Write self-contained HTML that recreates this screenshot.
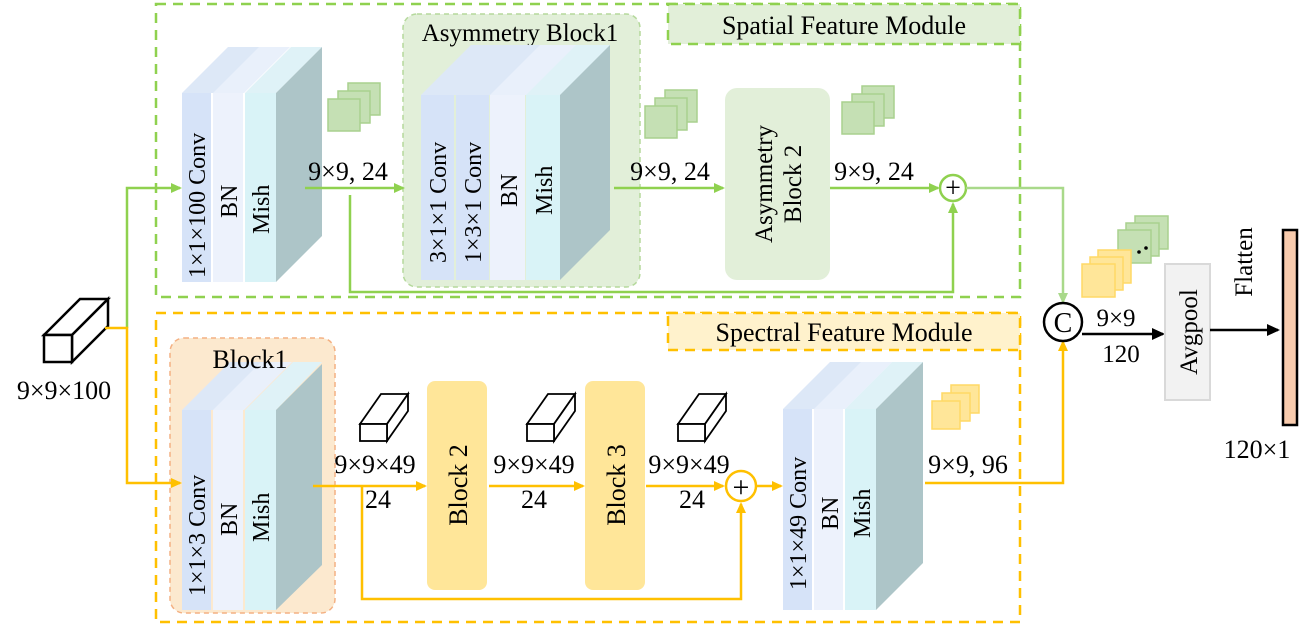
<!DOCTYPE html>
<html><head><meta charset="utf-8"><style>
html,body{margin:0;padding:0;background:#fff}
svg{display:block}
svg text{font-family:"Liberation Serif","DejaVu Serif","Times New Roman",serif !important}
</style></head><body>
<svg width="1305" height="628" viewBox="0 0 1305 628" xmlns="http://www.w3.org/2000/svg" font-family="Liberation Serif, DejaVu Serif, serif">
<defs>
<marker id="ag" markerWidth="12" markerHeight="12" refX="9" refY="5" orient="auto" markerUnits="userSpaceOnUse"><path d="M0,0 L11,5 L0,10z" fill="#8fd14f"/></marker>
<marker id="agl" markerWidth="12" markerHeight="12" refX="9" refY="5" orient="auto" markerUnits="userSpaceOnUse"><path d="M0,0 L11,5 L0,10z" fill="#a9d98a"/></marker>
<marker id="ao" markerWidth="12" markerHeight="12" refX="9" refY="5" orient="auto" markerUnits="userSpaceOnUse"><path d="M0,0 L11,5 L0,10z" fill="#ffc000"/></marker>
<marker id="ak" markerWidth="14" markerHeight="14" refX="11" refY="6" orient="auto" markerUnits="userSpaceOnUse"><path d="M0,0 L13,6 L0,12z" fill="#000"/></marker>
</defs>

<rect x="156" y="4" width="864" height="293" fill="none" stroke="#8fd14f" stroke-width="2.5" stroke-dasharray="10,7"/>
<rect x="668" y="4" width="352" height="40" fill="#e2efd9" stroke="#8fd14f" stroke-width="2.5" stroke-dasharray="10,7"/>
<text x="844" y="34" font-size="26" text-anchor="middle">Spatial Feature Module</text>
<rect x="156" y="313" width="864" height="309" fill="none" stroke="#ffc000" stroke-width="2.5" stroke-dasharray="10,7"/>
<rect x="668" y="313" width="352" height="37" fill="#fff2cc" stroke="#ffc000" stroke-width="2.5" stroke-dasharray="10,7"/>
<text x="844" y="341" font-size="26" text-anchor="middle">Spectral Feature Module</text>

<rect x="403" y="14" width="237" height="273" rx="14" fill="#e2efd9" stroke="#b5d99c" stroke-width="1.5" stroke-dasharray="5,4"/>
<text x="520" y="41" font-size="25" text-anchor="middle">Asymmetry Block1</text>
<rect x="170" y="338" width="165" height="275" rx="14" fill="#fce9cf" stroke="#f4b183" stroke-width="1.5" stroke-dasharray="5,4"/>

<g>
<polygon points="182,93 228,47 276,47 230,93" fill="#dde8f7"/>
<polygon points="213,93 259,47 290,47 244,93" fill="#e9f0fb"/>
<polygon points="245,93 291,47 322,47 276,93" fill="#dff2f7"/>
<polygon points="276,93 322,47 322,236 276,282" fill="#adc5c8"/>
<rect x="182" y="93" width="29" height="189" fill="#d6e3f8"/>
<rect x="213" y="93" width="30" height="189" fill="#edf2fc"/>
<rect x="245" y="93" width="31" height="189" fill="#d9f3f7"/>
<text transform="translate(205,278) rotate(-90)" font-size="24">1×1×100 Conv</text>
<text transform="translate(237,218) rotate(-90)" font-size="24">BN</text>
<text transform="translate(269,234) rotate(-90)" font-size="24">Mish</text>
</g>

<g>
<polygon points="421,95 471,45 610,45 560,95" fill="#dde8f7"/>
<polygon points="490,95 540,45 610,45 560,95" fill="#e9f0fb"/>
<polygon points="526,95 576,45 610,45 560,95" fill="#dff2f7"/>
<polygon points="560,95 610,45 610,230 560,280" fill="#adc5c8"/>
<rect x="421" y="95" width="33" height="185" fill="#d6e3f8"/>
<rect x="456" y="95" width="33" height="185" fill="#d6e3f8"/>
<rect x="490" y="95" width="35" height="185" fill="#edf2fc"/>
<rect x="526" y="95" width="34" height="185" fill="#d9f3f7"/>
<text transform="translate(446,263) rotate(-90)" font-size="24">3×1×1 Conv</text>
<text transform="translate(481,263) rotate(-90)" font-size="24">1×3×1 Conv</text>
<text transform="translate(517,207) rotate(-90)" font-size="24">BN</text>
<text transform="translate(552,215) rotate(-90)" font-size="24">Mish</text>
</g>

<rect x="725" y="88" width="105" height="192" rx="12" fill="#e2efd9"/>
<text transform="translate(772,184) rotate(-90)" font-size="25" text-anchor="middle">Asymmetry</text>
<text transform="translate(801,184) rotate(-90)" font-size="25" text-anchor="middle">Block 2</text>

<g fill="#c5e0b4" stroke="#a9d18e" stroke-width="1.5">
<rect x="348" y="83" width="32" height="32"/><rect x="338" y="91" width="32" height="32"/><rect x="328" y="99" width="32" height="32"/>
<rect x="665" y="90" width="32" height="32"/><rect x="655" y="98" width="32" height="32"/><rect x="645" y="106" width="32" height="32"/>
<rect x="862" y="86" width="32" height="32"/><rect x="852" y="94" width="32" height="32"/><rect x="842" y="102" width="32" height="32"/>
</g>

<text x="348" y="180" font-size="26" text-anchor="middle">9×9, 24</text>
<text x="670" y="180" font-size="26" text-anchor="middle">9×9, 24</text>
<text x="874" y="180" font-size="26" text-anchor="middle">9×9, 24</text>

<g stroke="#8fd14f" stroke-width="2.5" fill="none">
<polyline points="127,328 127,188 180,188" marker-end="url(#ag)"/>
<line x1="305" y1="188" x2="403" y2="188" marker-end="url(#ag)"/>
<polyline points="350,195 350,292 953,292 953,204" marker-end="url(#ag)"/>
<line x1="614" y1="188" x2="723" y2="188" marker-end="url(#ag)"/>
<line x1="830" y1="188" x2="938" y2="188" marker-end="url(#ag)"/>
<circle cx="953" cy="188" r="13" fill="#fff"/>
</g>
<text x="953" y="197" font-size="28" text-anchor="middle">+</text>
<polyline points="966,188 1063,188 1063,302" stroke="#a9d98a" stroke-width="2.5" fill="none" marker-end="url(#agl)"/>

<g fill="#fff" stroke="#000" stroke-width="2.5">
<polygon points="44,335 80,299 108,299 72,335"/>
<polygon points="72,335 108,299 108,326 72,362"/>
<rect x="44" y="335" width="28" height="27"/>
</g>
<text x="64" y="399" font-size="26" text-anchor="middle">9×9×100</text>

<g>
<polygon points="182,410 230,362 276,362 228,410" fill="#dde8f7"/>
<polygon points="213,410 261,362 292,362 244,410" fill="#e9f0fb"/>
<polygon points="245,410 293,362 322,362 276,410" fill="#dff2f7"/>
<polygon points="276,410 322,364 322,565 276,610" fill="#adc5c8"/>
<rect x="182" y="410" width="29" height="200" fill="#d6e3f8"/>
<rect x="213" y="410" width="30" height="200" fill="#edf2fc"/>
<rect x="245" y="410" width="31" height="200" fill="#d9f3f7"/>
<text transform="translate(205,596) rotate(-90)" font-size="24">1×1×3 Conv</text>
<text transform="translate(237,536) rotate(-90)" font-size="24">BN</text>
<text transform="translate(269,542) rotate(-90)" font-size="24">Mish</text>
</g>
<text x="250" y="368" font-size="26" text-anchor="middle">Block1</text>

<rect x="427" y="381" width="60" height="209" rx="8" fill="#ffe699"/>
<text transform="translate(467,485) rotate(-90)" font-size="26" text-anchor="middle">Block 2</text>
<rect x="585" y="381" width="60" height="209" rx="8" fill="#ffe699"/>
<text transform="translate(625,485) rotate(-90)" font-size="26" text-anchor="middle">Block 3</text>

<g fill="#fff" stroke="#000" stroke-width="1.8">
<polygon points="360,424 381,394 408,394 387,424"/><polygon points="387,424 408,394 408,411 387,441"/><rect x="360" y="424" width="27" height="17"/>
<polygon points="527,424 548,394 575,394 554,424"/><polygon points="554,424 575,394 575,411 554,441"/><rect x="527" y="424" width="27" height="17"/>
<polygon points="678,424 699,394 726,394 705,424"/><polygon points="705,424 726,394 726,411 705,441"/><rect x="678" y="424" width="27" height="17"/>
</g>
<g font-size="26" text-anchor="middle">
<text x="375" y="473">9×9×49</text><text x="378" y="508">24</text>
<text x="534" y="473">9×9×49</text><text x="534" y="508">24</text>
<text x="689" y="473">9×9×49</text><text x="692" y="508">24</text>
</g>

<g stroke="#ffc000" stroke-width="2.5" fill="none">
<polyline points="105,328 127,328 127,483 180,483" marker-end="url(#ao)"/>
<line x1="313" y1="486" x2="425" y2="486" marker-end="url(#ao)"/>
<polyline points="362,486 362,599 741,599 741,504" marker-end="url(#ao)"/>
<line x1="489" y1="486" x2="583" y2="486" marker-end="url(#ao)"/>
<line x1="646" y1="486" x2="723" y2="486" marker-end="url(#ao)"/>
<line x1="757" y1="486" x2="781" y2="486" marker-end="url(#ao)"/>
<circle cx="741" cy="486" r="15" fill="#fff"/>
<polyline points="925,483 1063,483 1063,342" marker-end="url(#ao)"/>
</g>
<text x="741" y="497" font-size="30" text-anchor="middle">+</text>

<g>
<polygon points="783,409 830,362 876,362 829,409" fill="#dde8f7"/>
<polygon points="814,409 861,362 892,362 845,409" fill="#e9f0fb"/>
<polygon points="845,409 892,362 923,362 876,409" fill="#dff2f7"/>
<polygon points="876,409 923,362 923,563 876,610" fill="#adc5c8"/>
<rect x="783" y="409" width="29" height="201" fill="#d6e3f8"/>
<rect x="814" y="409" width="29" height="201" fill="#edf2fc"/>
<rect x="845" y="409" width="31" height="201" fill="#d9f3f7"/>
<text transform="translate(806,590) rotate(-90)" font-size="24">1×1×49 Conv</text>
<text transform="translate(838,530) rotate(-90)" font-size="24">BN</text>
<text transform="translate(870,538) rotate(-90)" font-size="24">Mish</text>
</g>
<g fill="#ffe699" stroke="#ffd966" stroke-width="1.5">
<rect x="951" y="385" width="28" height="28"/><rect x="942" y="393" width="28" height="28"/><rect x="932" y="401" width="28" height="28"/>
</g>
<text x="968" y="473" font-size="26" text-anchor="middle">9×9, 96</text>

<circle cx="1063" cy="322" r="19" fill="#fff" stroke="#000" stroke-width="2.5"/>
<text x="1063" y="332" font-size="28" text-anchor="middle">C</text>
<line x1="1082" y1="334" x2="1163" y2="334" stroke="#000" stroke-width="2.5" marker-end="url(#ak)"/>
<text x="1116" y="326" font-size="25" text-anchor="middle">9×9</text>
<text x="1121" y="362" font-size="25" text-anchor="middle">120</text>

<g fill="#c5e0b4" stroke="#a9d18e" stroke-width="1.5">
<rect x="1135" y="216" width="33" height="33"/><rect x="1126" y="223" width="33" height="33"/><rect x="1118" y="230" width="33" height="33"/>
</g>
<g fill="#ffe699" stroke="#ffd966" stroke-width="1.5">
<rect x="1098" y="250" width="33" height="33"/><rect x="1090" y="257" width="33" height="33"/><rect x="1082" y="264" width="33" height="33"/>
</g>
<circle cx="1139" cy="252" r="1.8" fill="#000"/><circle cx="1146" cy="248" r="1.8" fill="#000"/>

<rect x="1165" y="264" width="45" height="136" fill="#f2f2f2" stroke="#d9d9d9" stroke-width="2"/>
<text transform="translate(1197,332) rotate(-90)" font-size="25" text-anchor="middle">Avgpool</text>
<line x1="1210" y1="330" x2="1278" y2="330" stroke="#000" stroke-width="2.5" marker-end="url(#ak)"/>
<text transform="translate(1252,262) rotate(-90)" font-size="25" text-anchor="middle">Flatten</text>
<rect x="1283" y="230" width="14" height="195" fill="#f8cbad" stroke="#000" stroke-width="2.5"/>
<text x="1257" y="458" font-size="26" text-anchor="middle">120×1</text>
</svg>
</body></html>
